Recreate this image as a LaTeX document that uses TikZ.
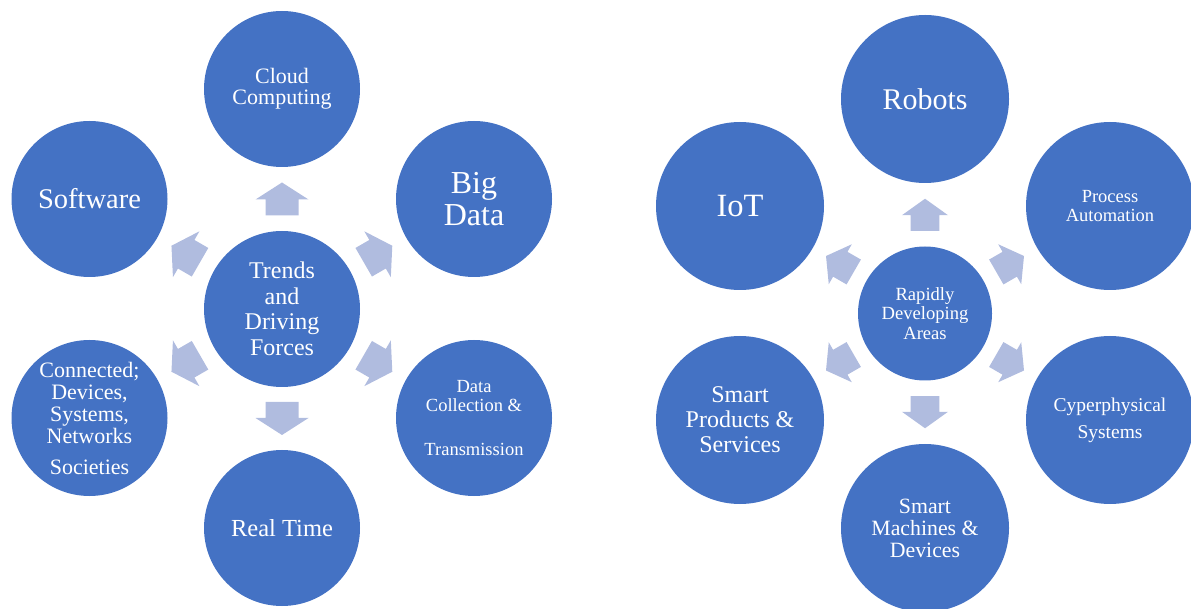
\documentclass[tikz,border=0pt]{standalone}
\usepackage{fontspec}
\setmainfont{Liberation Serif}
\usetikzlibrary{calc}
\definecolor{bubblue}{HTML}{4472C4}
\definecolor{arrowblue}{HTML}{B0BCDF}
\tikzset{bubble/.style={circle,fill=bubblue,text=white,align=center,inner sep=0pt,minimum size=#1},
	bubble/.default=156pt,
	arrowfill/.style={fill=arrowblue}}
\newcommand{\fatarrow}[4][]
{\pgfmathtruncatemacro{\backangle}{#4+180}
\begin{scope}[shift={($(#2.#4)!.5!(#3.\backangle)$)},rotate=#4,#1]
	\fill[arrowfill] (-16.5pt,-16.5pt) -- (-0.5pt,-16.5pt) -- (-0.5pt,-26.5pt) -- (16.5pt,0pt) -- (-0.5pt,26.5pt) -- (-0.5pt,16.5pt) -- (-16.5pt,16.5pt) -- cycle;
\end{scope}
}

\begin{document}
\begin{tikzpicture}[x=1pt,y=1pt]
\useasboundingbox (0,0) rectangle (1191,608);

\begin{scope}[shift={(282,299)}]
	\node[bubble,font=\fontsize{24}{25.5}\selectfont] (trends) at (0,0) {Trends\\and\\Driving\\Forces};
	\node[bubble,font=\fontsize{22}{21}\selectfont] (cloud) at (0,220) {Cloud\\Computing};
	\node[bubble,font=\fontsize{32}{32}\selectfont] (bigdata) at (192,110) {Big\\Data};
	\node[bubble,font=\fontsize{18.5}{19.5}\selectfont] (datacoll) at (192,-109) {Data\\Collection \&\\[24pt]Transmission};
	\node[bubble,font=\fontsize{24.5}{26}\selectfont] (realtime) at (0,-219) {Real Time};
	\node[bubble,font=\fontsize{22}{22}\selectfont] (connected) at (-192.5,-109) {Connected;\\Devices,\\Systems,\\Networks\\[9pt]Societies};
	\node[bubble,font=\fontsize{28.5}{30}\selectfont] (software) at (-192.5,110) {Software};
	\foreach \n/\a in {cloud/90,bigdata/30,datacoll/-30,realtime/-90,connected/-150,software/150}
		{\fatarrow{trends}{\n}{\a}};
\end{scope}

\begin{scope}[shift={(925,294.5)}]
	\node[bubble=134pt,font=\fontsize{18.6}{19.4}\selectfont] (rapid) at (0,0) {Rapidly\\Developing\\Areas};
	\node[bubble=168pt,font=\fontsize{30}{32}\selectfont] (robots) at (0,214.5) {Robots};
	\node[bubble=168pt,font=\fontsize{18.5}{19.5}\selectfont] (process) at (185,107.5) {Process\\Automation};
	\node[bubble=168pt,font=\fontsize{19.5}{27}\selectfont] (cyper) at (185,-106.5) {Cyperphysical\\Systems};
	\node[bubble=168pt,font=\fontsize{21.8}{22}\selectfont] (machines) at (0,-214.5) {Smart\\Machines \&\\Devices};
	\node[bubble=168pt,font=\fontsize{24}{25}\selectfont] (products) at (-185,-106.5) {Smart\\Products \&\\Services};
	\node[bubble=168pt,font=\fontsize{32.5}{34}\selectfont] (iot) at (-185,107.5) {IoT};
	\foreach \n/\a in {robots/90,process/30,cyper/-30,machines/-90,products/-150,iot/150}
		{\fatarrow[xscale=.97,yscale=.87]{rapid}{\n}{\a}};
\end{scope}
\end{tikzpicture}
\end{document}
